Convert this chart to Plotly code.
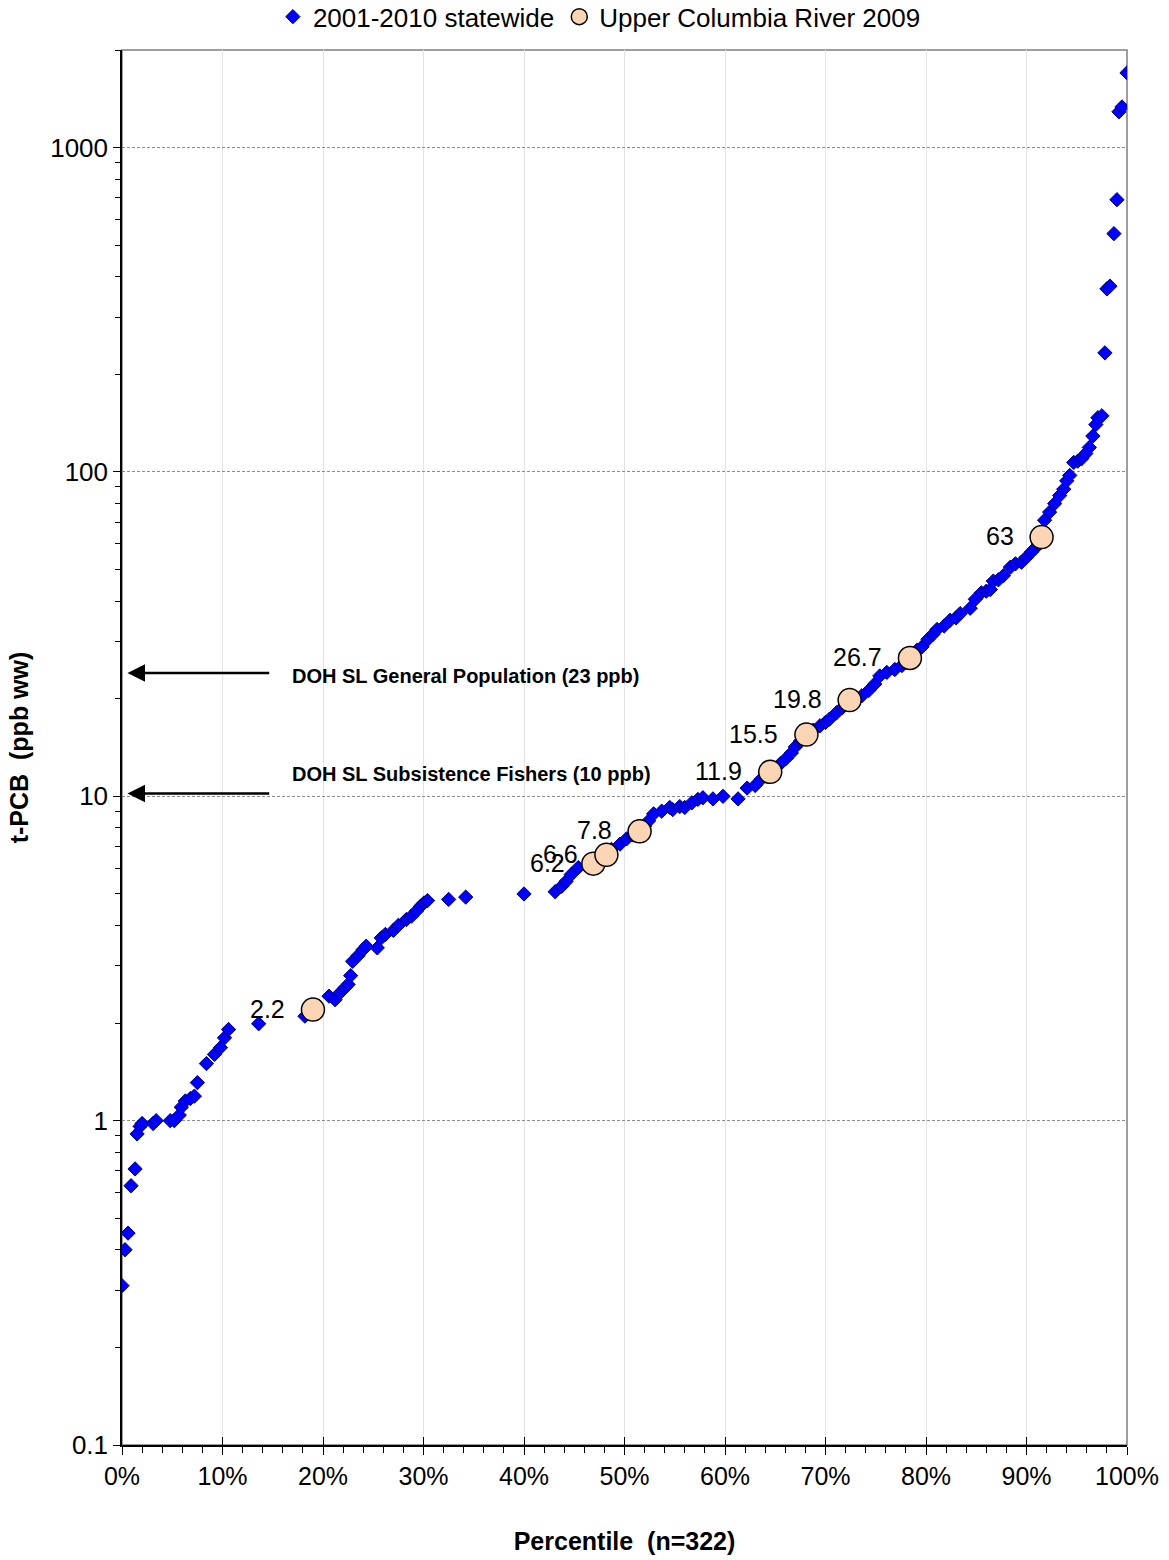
import math
import plotly.graph_objects as go

# ---------------- data ----------------
state_pct = [0.0, 0.3, 0.6, 0.9, 1.3, 1.5, 1.8, 2.0, 3.1, 3.4, 4.8, 5.2, 5.7, 5.9, 6.3, 6.8, 7.2, 7.5,
             8.4, 9.2, 9.8, 10.2, 10.6, 13.6, 18.2, 20.6, 21.2, 21.7, 22.2, 22.5, 22.75, 22.95, 23.5,
             24.0, 24.3, 25.4, 25.8, 26.2, 27.0, 27.5, 28.3, 28.8, 29.3, 29.7, 30.05, 30.4, 32.5, 34.2,
             40.0, 43.1, 43.75, 44.2, 44.7, 45.4, 46.3, 47.5, 48.7, 49.55, 50.2, 50.8, 52.0, 52.4, 52.9,
             53.7, 54.5, 54.8, 55.5, 56.0, 56.7, 57.3, 57.8, 58.8, 59.8, 61.3, 62.2, 63.0, 63.6, 64.2,
             65.0, 65.5, 66.1, 66.6, 67.0, 67.5, 68.8, 69.45, 70.0, 70.4, 71.1, 71.7, 73.0, 73.6, 74.3,
             74.9, 75.4, 76.1, 76.9, 77.6, 79.1, 79.6, 80.2, 80.7, 81.1, 81.8, 82.4, 83.0, 83.4, 84.4,
             84.9, 85.5, 86.0, 86.4, 86.7, 87.2, 87.7, 88.4, 88.9, 89.5, 90.0, 90.5, 90.8, 91.2, 91.8,
             92.3, 92.8, 93.3, 93.7, 94.0, 94.3, 94.7, 95.1, 95.5, 95.9, 96.25, 96.6, 96.9, 97.1, 97.5,
             97.8, 98.0, 98.3, 98.7, 99.0, 99.2, 99.5, 100.0]
state_val = [0.31, 0.40, 0.45, 0.63, 0.71, 0.91, 0.96, 0.98, 0.98, 1.00, 1.00, 1.00, 1.04, 1.10, 1.15, 1.17, 1.19, 1.31,
             1.50, 1.60, 1.68, 1.80, 1.91, 1.99, 2.10, 2.42, 2.36, 2.48, 2.57, 2.63, 2.80, 3.10, 3.23,
             3.37, 3.45, 3.41, 3.66, 3.75, 3.86, 4.00, 4.17, 4.27, 4.43, 4.58, 4.69, 4.77, 4.81, 4.89,
             5.00, 5.08, 5.28, 5.47, 5.74, 6.03, 6.15, 6.40, 6.86, 7.12, 7.39, 7.60, 8.10, 8.40, 8.83,
             9.00, 9.24, 9.10, 9.30, 9.24, 9.55, 9.78, 9.90, 9.82, 10.0, 9.82, 10.6, 10.8, 11.3, 11.6,
             12.2, 12.6, 13.1, 13.6, 14.2, 14.8, 16.0, 16.5, 16.9, 17.3, 18.1, 18.8, 20.1, 20.4, 21.2,
             22.2, 23.5, 24.1, 24.6, 25.3, 28.2, 28.9, 30.5, 31.6, 32.7, 33.5, 34.9, 35.5, 36.6, 38.0,
             40.5, 42.4, 42.9, 43.4, 46.1, 46.5, 47.9, 50.9, 52.1, 52.7, 54.6, 56.7, 58.0, 60.0, 71.0,
             75.2, 79.9, 84.6, 88.5, 93.9, 97.6, 107, 108, 110, 114, 119, 129, 140, 147, 149,
             233, 367, 374, 543, 691, 1290, 1335, 1700]

ucr_pct = [19.0, 46.9, 48.2, 51.5, 64.5, 68.1, 72.4, 78.4, 91.5]
ucr_val = [2.2, 6.2, 6.6, 7.8, 11.9, 15.5, 19.8, 26.7, 63.0]
ucr_lbl = ["2.2", "6.2", "6.6", "7.8", "11.9", "15.5", "19.8", "26.7", "63"]

x_ticks = [0, 10, 20, 30, 40, 50, 60, 70, 80, 90, 100]
x_tick_text = ["0%", "10%", "20%", "30%", "40%", "50%", "60%", "70%", "80%", "90%", "100%"]
y_ticks = [0.1, 1, 10, 100, 1000]
y_tick_text = ["0.1", "1", "10", "100", "1000"]

guide_text = ["DOH SL General Population (23 ppb)", "DOH SL Subsistence Fishers (10 ppb)"]
guide_arrow_y = [24.0, 10.2]
guide_text_y = [23.5, 11.7]

FONT = "Arial, 'Liberation Sans', sans-serif"

fig = go.Figure()
fig.add_trace(go.Scatter(
    x=state_pct, y=state_val, mode="markers", name="2001-2010 statewide",
    marker=dict(symbol="diamond", size=11, color="#0000FF", line=dict(color="#000080", width=1)),
))
fig.add_trace(go.Scatter(
    x=ucr_pct, y=ucr_val, mode="markers", name="Upper Columbia River 2009",
    marker=dict(symbol="circle", size=23, color="#FCD5B4", line=dict(color="#000000", width=1.5)),
))
# dummy trace to activate the overlay axis used for inward tick marks
fig.add_trace(go.Scatter(x=[50], y=[1], xaxis="x2", mode="markers", marker=dict(opacity=0),
                         showlegend=False, hoverinfo="skip"))

annotations = []
for p, v, t in zip(ucr_pct, ucr_val, ucr_lbl):
    annotations.append(dict(x=p, y=math.log10(v), xref="x", yref="y", text=t, showarrow=False,
                            xanchor="right", yanchor="middle", xshift=-26, yshift=1,
                            font=dict(family=FONT, size=25, color="black")))
for ty, ay, txt in zip(guide_text_y, guide_arrow_y, guide_text):
    annotations.append(dict(x=0.55, y=math.log10(ay), ax=14.8, ay=math.log10(ay),
                            xref="x", yref="y", axref="x", ayref="y", text="",
                            showarrow=True, arrowhead=2, arrowsize=1.4, arrowwidth=2.5, arrowcolor="black"))
    annotations.append(dict(x=16.7, y=math.log10(ty), xref="x", yref="y", text="<b>" + txt + "</b>",
                            showarrow=False, xanchor="left", yanchor="middle",
                            font=dict(family=FONT, size=20, color="black")))

minor_y = [m * 10 ** e for e in range(-1, 3) for m in range(2, 10)] + [2000]

fig.update_layout(
    width=1169, height=1560,
    margin=dict(l=122, r=42, t=50, b=115, autoexpand=False),
    paper_bgcolor="white", plot_bgcolor="white",
    font=dict(family=FONT, size=25, color="black"),
    showlegend=True,
    legend=dict(orientation="h", x=0.475, xanchor="center", y=1.007, yanchor="bottom",
                font=dict(family=FONT, size=26, color="black"), bgcolor="rgba(0,0,0,0)",
                itemwidth=30, tracegroupgap=0),
    annotations=annotations,
    xaxis=dict(range=[0, 100], tickvals=x_ticks, ticktext=x_tick_text, ticks="outside", ticklen=8,
               tickcolor="black", tickwidth=1, showline=True, linecolor="black", linewidth=1.5,
               showgrid=True, gridcolor="#E4E4E4", gridwidth=1, zeroline=False,
               tickfont=dict(family=FONT, size=25, color="black"),
               minor=dict(tickvals=[v for v in range(0, 101, 2) if v % 10], ticks="outside",
                          ticklen=6, tickcolor="black", showgrid=False),
               title=dict(text="<b>Percentile  (n=322)</b>", standoff=44,
                          font=dict(family=FONT, size=25, color="black"))),
    xaxis2=dict(range=[0, 100], overlaying="x", anchor="y", side="bottom", tickvals=x_ticks,
                ticks="inside", ticklen=8, tickcolor="black", showticklabels=False,
                showgrid=False, showline=False, zeroline=False),
    yaxis=dict(type="log", range=[-1, math.log10(2000)], tickvals=y_ticks, ticktext=y_tick_text,
               ticks="outside", ticklen=7, tickcolor="black", showline=True, linecolor="black",
               linewidth=1.5, showgrid=True, gridcolor="#8C8C8C", griddash="3px,2px", gridwidth=1,
               zeroline=False, tickfont=dict(family=FONT, size=26, color="black"),
               minor=dict(tickvals=minor_y, ticks="outside", ticklen=5, tickcolor="black", showgrid=False),
               title=dict(text="<b>t-PCB  (ppb ww)</b>", standoff=14,
                          font=dict(family=FONT, size=25, color="black"))),
    shapes=[dict(type="rect", xref="paper", yref="paper", x0=0, y0=0, x1=1, y1=1,
                 line=dict(color="#7F7F7F", width=1.5), layer="below")],
)

fig.write_html("out.html")
